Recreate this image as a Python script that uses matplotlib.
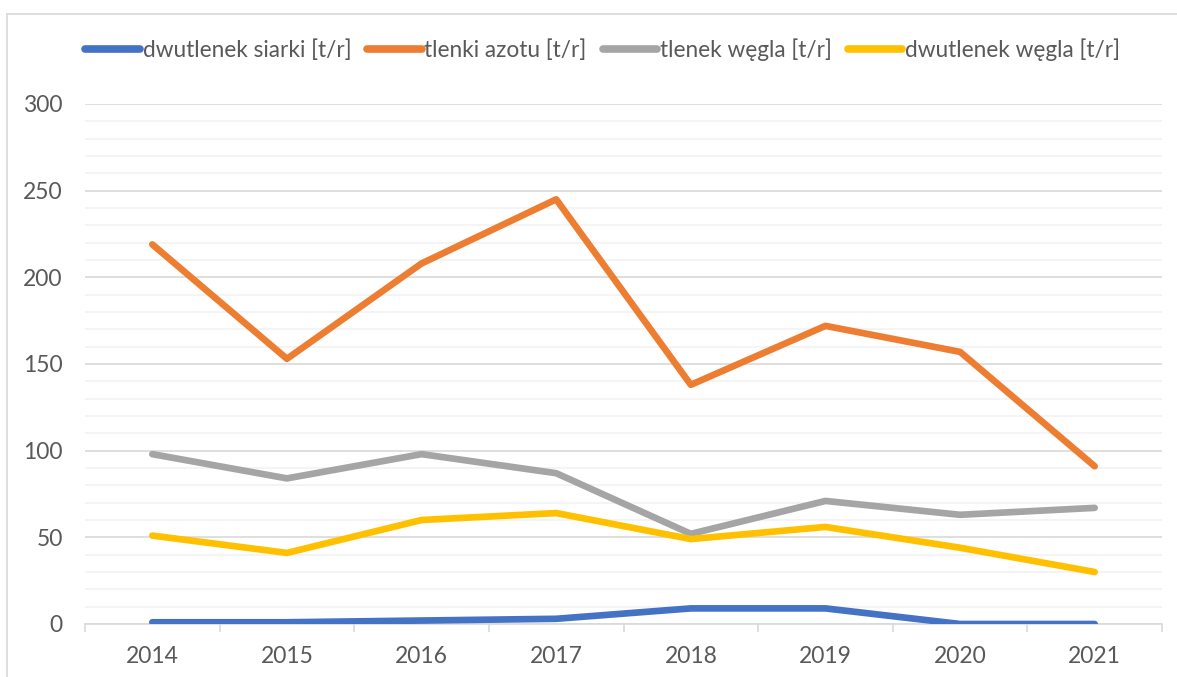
import matplotlib.pyplot as plt
from matplotlib.lines import Line2D

# Data
years = ['2014', '2015', '2016', '2017', '2018', '2019', '2020', '2021']
so2 = [1, 1, 2, 3, 9, 9, 0, 0]
nox = [219, 153, 208, 245, 138, 172, 157, 91]
co = [98, 84, 98, 87, 52, 71, 63, 67]
co2 = [51, 41, 60, 64, 49, 56, 44, 30]

labels = ['dwutlenek siarki [t/r]', 'tlenki azotu [t/r]',
          'tlenek węgla [t/r]', 'dwutlenek węgla [t/r]']
colors = ['#4472C4', '#ED7D31', '#A5A5A5', '#FFC000']

plt.rcParams['font.family'] = ['Lato', 'DejaVu Sans']

fig = plt.figure(figsize=(11.77, 6.77), dpi=100)
ax = fig.add_axes([85 / 1177, 1 - 624 / 677, 1077 / 1177, 520 / 677])

x = list(range(len(years)))
for series, label, color in zip([so2, nox, co, co2], labels, colors):
    ax.plot(x, series, color=color, lw=4.8, label=label,
            solid_capstyle='round', solid_joinstyle='round', zorder=3)

ax.set_ylim(0, 300)
ax.set_xlim(-0.5, len(years) - 0.5)

# gridlines: major every 50, minor every 10
ax.set_yticks(range(0, 301, 50))
ax.set_yticks(range(0, 301, 10), minor=True)
ax.grid(True, axis='y', which='major', color='#d9d9d9', lw=1.2, zorder=1)
ax.grid(True, axis='y', which='minor', color='#f2f2f2', lw=1.2, zorder=0)

ax.set_xticks(x)
ax.set_xticklabels(years)
ax.set_xticks([i - 0.5 for i in range(len(years) + 1)], minor=True)
ax.tick_params(axis='x', which='major', length=0, pad=16, labelsize=16.5,
               labelcolor='#595959')
ax.tick_params(axis='x', which='minor', length=6, width=1.2, color='#d9d9d9',
               direction='out')
ax.tick_params(axis='y', which='both', length=0, pad=16, labelsize=16.5,
               labelcolor='#595959')

for side in ['left', 'right', 'top']:
    ax.spines[side].set_visible(False)
ax.spines['bottom'].set_color('#d9d9d9')
ax.spines['bottom'].set_linewidth(1.2)
ax.spines['bottom'].set_zorder(2)

handles = [Line2D([0], [0], color=c, lw=5.5, solid_capstyle='round') for c in colors]
fig.legend(handles, labels, loc='center', bbox_to_anchor=(0.512, 1 - 50 / 677),
           ncol=4, frameon=False, fontsize=16.3, labelcolor='#595959',
           handlelength=2.4, handletextpad=0.13, columnspacing=0.7)

# chart area border
fig.add_artist(Line2D([7 / 1177, 7 / 1177], [0, 1 - 14 / 677],
                      color='#d9d9d9', lw=1.2, transform=fig.transFigure))
fig.add_artist(Line2D([7 / 1177, 1], [1 - 14 / 677, 1 - 14 / 677],
                      color='#d9d9d9', lw=1.2, transform=fig.transFigure))

fig.savefig('out.png', dpi=100)
